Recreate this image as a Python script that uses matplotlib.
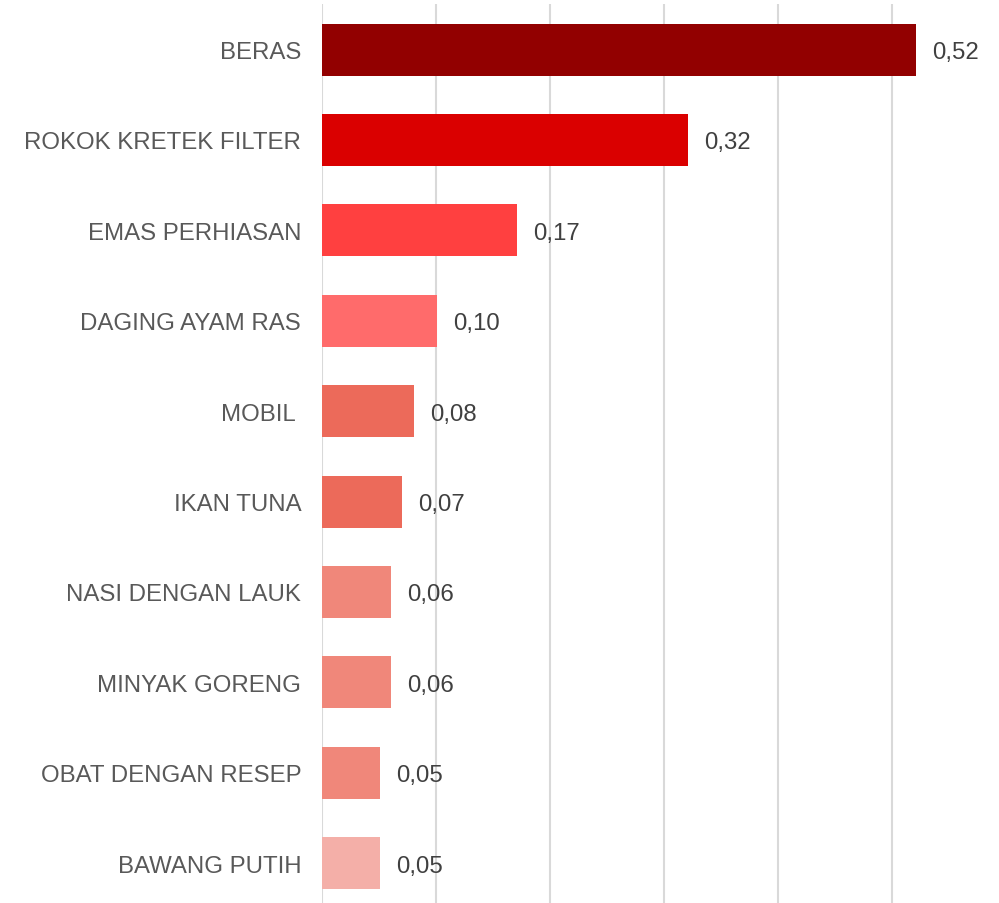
import matplotlib
matplotlib.use("Agg")
import matplotlib.pyplot as plt

categories = ["BERAS", "ROKOK KRETEK FILTER", "EMAS PERHIASAN", "DAGING AYAM RAS",
              "MOBIL ", "IKAN TUNA", "NASI DENGAN LAUK", "MINYAK GORENG",
              "OBAT DENGAN RESEP", "BAWANG PUTIH"]
values = [0.521, 0.321, 0.171, 0.101, 0.081, 0.070, 0.0605, 0.0605, 0.051, 0.051]
value_labels = ["0,52", "0,32", "0,17", "0,10", "0,08", "0,07", "0,06", "0,06", "0,05", "0,05"]
colors = ["#920000", "#DA0000", "#FF4040", "#FF6B6B", "#EC6A5A", "#EC6A5A",
          "#F0877A", "#F0877A", "#F0877A", "#F4AFA8"]

plt.rcParams['font.family'] = ['Liberation Sans', 'DejaVu Sans']

W, H = 999, 904
fig = plt.figure(figsize=(W / 100, H / 100), dpi=100)
left, right = 322, 999
top, bottom = 5, 904
ax = fig.add_axes([left / W, 1 - bottom / H, (right - left) / W, (bottom - top) / H])

pitch = 90.4
c0 = 50.5
y = list(range(len(categories)))
ax.barh(y, values, height=52 / pitch, color=colors, zorder=2)

ax.set_xlim(0, (right - left) / 1140)
ax.set_ylim((bottom - c0) / pitch, (top - c0) / pitch)

ax.set_xticks([0, 0.1, 0.2, 0.3, 0.4, 0.5])
ax.xaxis.grid(True, color="#D9D9D9", linewidth=1.5, zorder=0)
ax.set_axisbelow(True)
ax.tick_params(axis='x', length=0, labelbottom=False)
ax.tick_params(axis='y', length=0, pad=15, labelsize=17.3, labelcolor="#595959")
ax.set_yticks(y)
ax.set_yticklabels(categories)
for s in ax.spines.values():
    s.set_visible(False)

for yi, v, lab in zip(y, values, value_labels):
    ax.annotate(lab, xy=(v, yi), xytext=(16, -2.5), textcoords='offset pixels',
                ha='left', va='center', fontsize=17.3, color="#404040", zorder=3)

fig.savefig("out.png", dpi=100)
